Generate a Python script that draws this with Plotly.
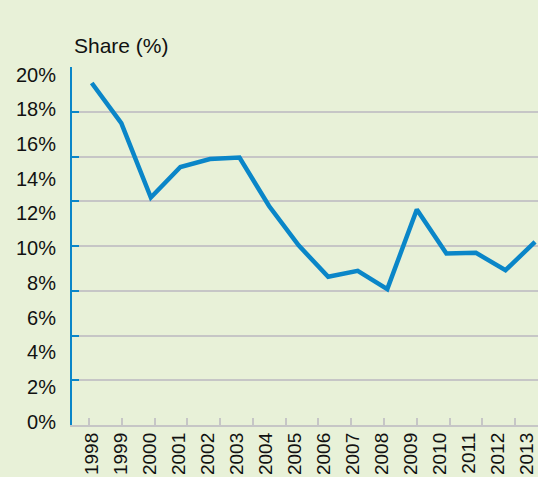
import plotly.graph_objects as go

years = list(range(1998, 2014))
year_labels = [str(y) for y in years]
share = [19.52, 17.21, 12.92, 14.68, 15.14, 15.22, 12.43, 10.16,
         8.35, 8.69, 7.64, 12.23, 9.69, 9.73, 8.73, 10.36]
y_label_vals = [0, 2, 4, 6, 8, 10, 12, 14, 16, 18, 20]
y_label_text = [f"{v}%" for v in y_label_vals]
grid_vals = [0, 2.5, 5, 7.5, 10, 12.5, 15, 17.5, 20]
tick_years = list(range(1998, 2012))

BG = "#e8f1d8"
BLUE = "#0a86c8"
GRID = "#c6c6c6"
FONT = "Liberation Sans, Arial, sans-serif"

fig = go.Figure()
# base subplot (x, y): carries grid and axes
fig.add_trace(go.Scatter(x=[years[0]], y=[None], xaxis="x", yaxis="y",
                         mode="markers", showlegend=False, hoverinfo="skip"))
# label axis for years (x2 over y)
fig.add_trace(go.Scatter(x=[years[0]], y=[None], xaxis="x2", yaxis="y",
                         mode="markers", showlegend=False, hoverinfo="skip"))
# tick-mark axis (x3 over y)
fig.add_trace(go.Scatter(x=[tick_years[0]], y=[None], xaxis="x3", yaxis="y",
                         mode="markers", showlegend=False, hoverinfo="skip"))
# data line on (x, y2)
fig.add_trace(go.Scatter(
    x=years, y=share, mode="lines",
    line=dict(color=BLUE, width=4.5),
    xaxis="x", yaxis="y2", hoverinfo="skip", showlegend=False,
))

fig.update_layout(
    width=538, height=477,
    margin=dict(l=72, r=0, t=67, b=52),
    paper_bgcolor=BG, plot_bgcolor=BG,
    font=dict(family=FONT, size=20, color="#111111"),
    showlegend=False,
    xaxis=dict(
        type="linear", range=[1998 - 0.668, 2013 + 0.10],
        showticklabels=False, ticks="", automargin=False,
        showgrid=False, zeroline=False,
        showline=True, linecolor=GRID, linewidth=2,
    ),
    xaxis2=dict(
        type="linear", range=[1998 - 0.692, 2013 + 0.398],
        overlaying="x", anchor="y", side="bottom", automargin=False,
        tickvals=years, ticktext=year_labels, tickangle=-90,
        ticklabeloverflow="allow",
        showgrid=False, zeroline=False, showline=False,
        ticks="", ticklabelstandoff=3,
        tickfont=dict(size=19, family=FONT, color="#111111"),
    ),
    xaxis3=dict(
        type="linear", range=[1997.48, 2011.70], overlaying="x", anchor="y",
        side="bottom", automargin=False,
        tickvals=tick_years, showticklabels=False, ticks="inside",
        ticklen=7, tickwidth=2, tickcolor=GRID,
        showgrid=False, zeroline=False, showline=False,
    ),
    yaxis=dict(
        range=[0, 20], tickvals=grid_vals, showticklabels=False,
        automargin=False,
        ticks="inside", ticklen=7, tickwidth=2, tickcolor=BLUE,
        showgrid=True, gridcolor=GRID, gridwidth=2, zeroline=False,
        showline=True, linecolor=BLUE, linewidth=2,
    ),
    yaxis2=dict(
        range=[-0.19, 20.44], overlaying="y", anchor="x", side="left",
        automargin=False,
        tickvals=y_label_vals, ticktext=y_label_text,
        showgrid=False, zeroline=False, showline=False, ticks="",
        ticklabelstandoff=15,
        tickfont=dict(size=20, family=FONT, color="#111111"),
    ),
    annotations=[dict(
        text="Share (%)", xref="paper", yref="paper", x=0, y=1,
        xanchor="left", yanchor="bottom", yshift=8, showarrow=False,
        font=dict(size=21, family=FONT, color="#111111"),
    )],
)

fig.write_html(
    "out.html",
    config={"displayModeBar": False},
    post_script="document.body.style.margin='0';document.body.style.overflow='hidden';",
)
